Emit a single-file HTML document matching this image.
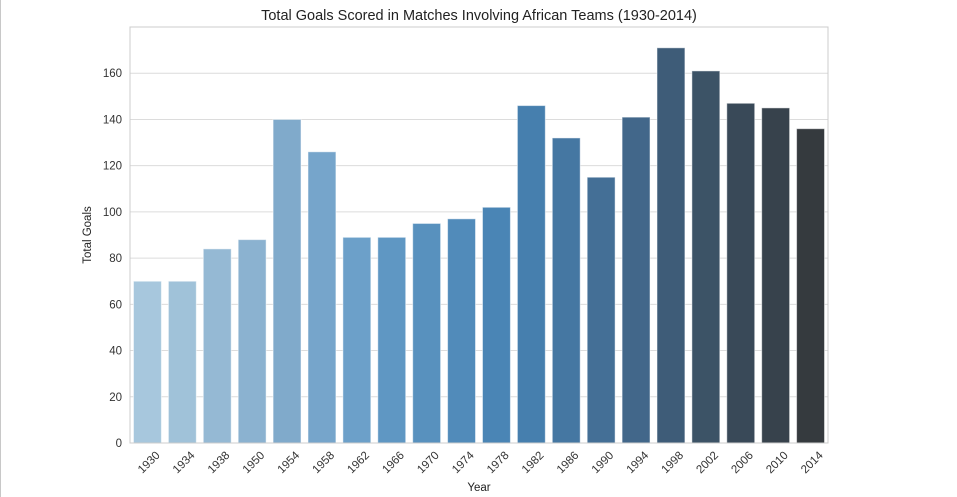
<!DOCTYPE html>
<html><head><meta charset="utf-8">
<style>
html,body{margin:0;padding:0;background:#fff;}
body{width:957px;height:497px;overflow:hidden;position:relative;font-family:"Liberation Sans",Arial,sans-serif;}
#frame{position:absolute;left:0;top:0;width:1px;height:497px;background:#c8c8c8;}
</style></head>
<body>
<div id="frame"></div>
<svg id="chart" width="957" height="497" style="position:absolute;left:0;top:0"></svg>
<script>
const categories = ["1930","1934","1938","1950","1954","1958","1962","1966","1970","1974","1978","1982","1986","1990","1994","1998","2002","2006","2010","2014"];
const goals = [70,70,84,88,140,126,89,89,95,97,102,146,132,115,141,171,161,147,145,136];
const yTicks = [0,20,40,60,80,100,120,140,160];
const barColors = ["#a7c7dd","#a0c2d9","#95b9d4","#8bb2d0","#80aacb","#76a5cb","#6ca0c9","#5f97c3","#5891be","#518bba","#4a85b5","#467fae","#4577a2","#446f96","#42678a","#3e5c78","#3c5366","#394958","#37424c","#353a3e"];

const svg = document.getElementById('chart');
const NS = 'http://www.w3.org/2000/svg';
const L=130, R=828, T=27, B=443, YMAX=180;
const y = v => B - v/YMAX*(B-T);
const slot = (R-L)/categories.length;
const x = i => L + slot*i;
function mk(tag, attrs){const e=document.createElementNS(NS,tag);for(const k in attrs)e.setAttribute(k,attrs[k]);svg.appendChild(e);return e;}

yTicks.forEach(t=>{
  const g = mk('line',{x1:L,x2:R,y1:y(t),y2:y(t),stroke:'#dcdcdc','stroke-width':1});
  
  
  const lb = mk('text',{x:L-8,y:y(t)+4,'text-anchor':'end','font-size':11.5,fill:'#333'});
  lb.textContent=t;
  
  
});

categories.forEach((c,i)=>{
  const w = slot*0.8;
  const b = mk('rect',{x:x(i)+slot*0.1,y:y(goals[i]),width:w,height:B-y(goals[i]),fill:barColors[i],stroke:'#ffffff','stroke-opacity':0.5,'stroke-width':1});
  
  
  const cx = x(i)+slot/2, ty = B+22;
  const lb = mk('text',{x:cx+4,y:ty,'text-anchor':'middle','font-size':11.5,fill:'#333',transform:`rotate(-45 ${cx+4} ${ty})`});
  lb.textContent=c;
  
  
});

const fr = mk('rect',{x:L,y:T,width:R-L,height:B-T,fill:'none',stroke:'#cccccc','stroke-width':1});



const title = mk('text',{x:(L+R)/2,y:20,'text-anchor':'middle','font-size':14.5,fill:'#222'});
title.textContent='Total Goals Scored in Matches Involving African Teams (1930-2014)';



const xt = mk('text',{x:(L+R)/2,y:491,'text-anchor':'middle','font-size':11.5,fill:'#222'});
xt.textContent='Year';



const yt = mk('text',{x:91,y:235,'text-anchor':'middle','font-size':11.5,fill:'#222',transform:'rotate(-90 91 235)'});
yt.textContent='Total Goals';


</script>
</body></html>
